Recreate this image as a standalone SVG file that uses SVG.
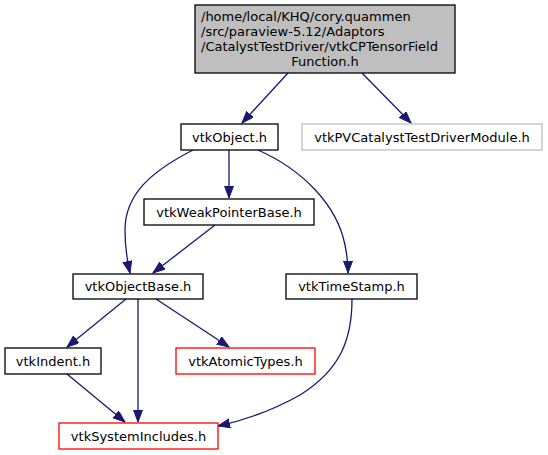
<svg xmlns="http://www.w3.org/2000/svg" width="548" height="455" viewBox="0 0 548 455">
<style>
.n rect{fill:#ffffff;stroke:#000000;stroke-width:1.3}
.n.top rect{fill:#bfbfbf}
.n.red rect{stroke:#ff0000}
.n.grey rect{stroke:#bfbfbf}
text{font-family:"DejaVu Sans",sans-serif;font-size:13px;fill:#000000}
.c{text-anchor:middle}
#edges path{fill:none;stroke:#191970;stroke-width:1.3;marker-end:url(#ah)}
</style>
<defs>
<marker id="ah" markerUnits="userSpaceOnUse" markerWidth="13" markerHeight="10" refX="12" refY="4.5" orient="auto">
<path d="M0,0 L12,4.5 L0,9 z" fill="#191970" stroke="#191970" stroke-width="1"/>
</marker>
</defs>
<rect width="548" height="455" fill="#ffffff"/>
<g id="edges">
<path d="M288,73 L242,123"/>
<path d="M362,73 L411,123"/>
<path d="M229,150 L229,198"/>
<path d="M193,150 C150,172 125,195 125,230 C125,248 127,260 130,273"/>
<path d="M258,150 C303,170 337,205 345,245 C347,255 348,265 348,273"/>
<path d="M215,225 L153,273"/>
<path d="M126,299 L67,347"/>
<path d="M138,299 L138,422"/>
<path d="M156,299 L229,347"/>
<path d="M67,374 L125,422"/>
<path d="M352,299 C352,340 340,370 300,395 C270,412 245,420 218,426"/>
</g>
<g id="node-top" class="n top">
<rect x="195" y="5" width="260" height="68"/>
<text x="201" y="21">/home/local/KHQ/cory.quammen</text>
<text x="201" y="36">/src/paraview-5.12/Adaptors</text>
<text x="201" y="51">/CatalystTestDriver/vtkCPTensorField</text>
<text x="325" y="66" class="c">Function.h</text>
</g>
<g id="node-vtkObject" class="n">
<rect x="181" y="124" width="97" height="26"/>
<text x="229.5" y="141.5" class="c">vtkObject.h</text>
</g>
<g id="node-vtkPVCatalystTestDriverModule" class="n grey">
<rect x="302" y="124" width="240" height="26"/>
<text x="422" y="141.5" class="c">vtkPVCatalystTestDriverModule.h</text>
</g>
<g id="node-vtkWeakPointerBase" class="n">
<rect x="144" y="199" width="170" height="26"/>
<text x="229" y="216.5" class="c">vtkWeakPointerBase.h</text>
</g>
<g id="node-vtkObjectBase" class="n">
<rect x="73" y="274" width="130" height="25"/>
<text x="138" y="291" class="c">vtkObjectBase.h</text>
</g>
<g id="node-vtkTimeStamp" class="n">
<rect x="286" y="274" width="131" height="25"/>
<text x="351.5" y="291" class="c">vtkTimeStamp.h</text>
</g>
<g id="node-vtkIndent" class="n">
<rect x="5" y="348" width="96" height="26"/>
<text x="53" y="365.5" class="c">vtkIndent.h</text>
</g>
<g id="node-vtkAtomicTypes" class="n red">
<rect x="176" y="348" width="139" height="26"/>
<text x="245.5" y="365.5" class="c">vtkAtomicTypes.h</text>
</g>
<g id="node-vtkSystemIncludes" class="n red">
<rect x="59" y="423" width="159" height="26"/>
<text x="138.5" y="440.5" class="c">vtkSystemIncludes.h</text>
</g>
</svg>
